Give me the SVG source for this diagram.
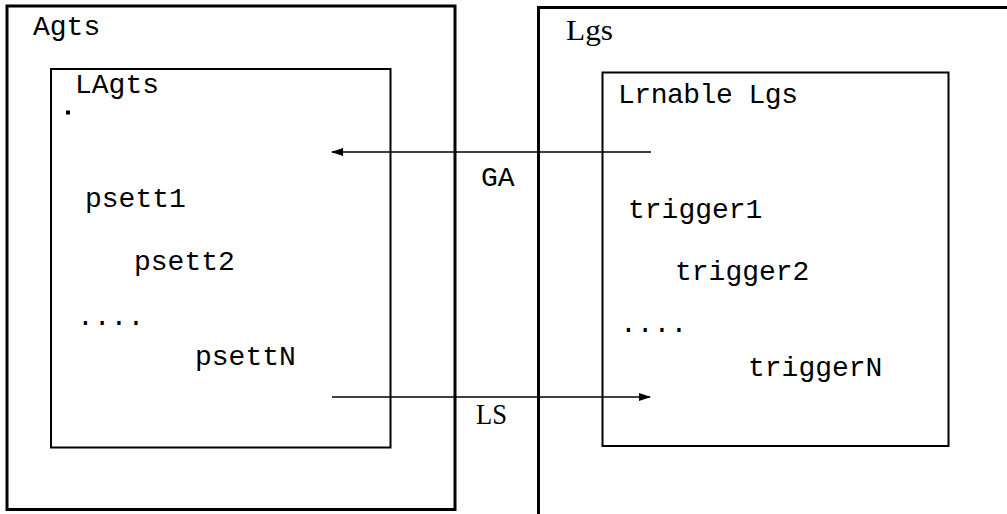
<svg xmlns="http://www.w3.org/2000/svg" width="1007" height="514" viewBox="0 0 1007 514">
<style>
.outer{fill:none;stroke:#000;stroke-width:3}
.inner{fill:none;stroke:#000;stroke-width:2}
.tt{font-family:"Liberation Mono",monospace;font-size:28px;fill:#000}
.rm{font-family:"Liberation Serif",serif;font-size:30px;fill:#000}
.conn{stroke:#000;stroke-width:1.5;fill:none}
</style>
<defs>
<marker id="ah" markerWidth="12" markerHeight="8" refX="11" refY="4" orient="auto" markerUnits="userSpaceOnUse">
<path d="M0,0 L12,4 L0,8 Z" fill="#000"/>
</marker>
</defs>
<rect width="1007" height="514" fill="#fff"/>
<g id="agts">
<rect class="outer" x="7" y="6" width="448" height="503.5"/>
<text class="tt" x="33" y="35">Agts</text>
</g>
<g id="lagts">
<rect class="inner" x="51" y="69" width="339.5" height="378.5"/>
<text class="tt" x="75" y="93">LAgts</text>
<rect x="66" y="110.5" width="4" height="4" fill="#000"/>
<text class="tt" x="85" y="207">psett1</text>
<text class="tt" x="134" y="270">psett2</text>
<text class="tt" x="77" y="325">....</text>
<text class="tt" x="195" y="365">psettN</text>
</g>
<g id="lgs">
<path class="outer" d="M538.5,514 V7.5 H1007"/>
<text class="rm" x="566" y="40" textLength="47" lengthAdjust="spacingAndGlyphs">Lgs</text>
</g>
<g id="lrnable">
<rect class="inner" x="602.5" y="72.5" width="346" height="373.5"/>
<text class="tt" x="618" y="103" textLength="180">Lrnable Lgs</text>
<text class="tt" x="628" y="218">trigger1</text>
<text class="tt" x="675" y="280">trigger2</text>
<text class="tt" x="620" y="332">....</text>
<text class="tt" x="748" y="376">triggerN</text>
</g>
<g id="connectors">
<line class="conn" x1="651" y1="152" x2="332" y2="152" marker-end="url(#ah)"/>
<text class="tt" x="481" y="186">GA</text>
<line class="conn" x1="332" y1="397" x2="650" y2="397" marker-end="url(#ah)"/>
<text class="rm" x="476" y="424" textLength="31" lengthAdjust="spacingAndGlyphs">LS</text>
</g>
</svg>
